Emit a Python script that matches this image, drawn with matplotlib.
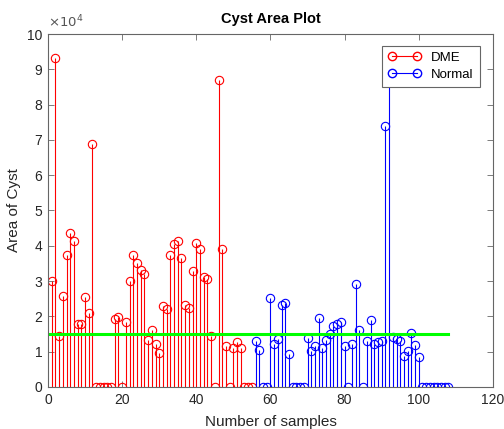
import matplotlib
matplotlib.use('Agg')
import matplotlib.pyplot as plt
import numpy as np
from matplotlib.lines import Line2D
from matplotlib.ticker import FuncFormatter

plt.rcParams['font.family'] = ['Liberation Sans', 'DejaVu Sans']

# cyst area values (x1e4)
dme_x = np.arange(1, 56)
dme_y = [3.00, 9.32, 1.45, 2.58, 3.75, 4.35, 4.13, 1.79, 1.79, 2.55,
         2.10, 6.87, 0, 0, 0, 0, 0, 1.93, 1.98, 0,
         1.84, 3.00, 3.75, 3.51, 3.31, 3.21, 1.34, 1.60, 1.21, 0.95,
         2.29, 2.22, 3.74, 4.04, 4.13, 3.64, 2.33, 2.25, 3.29, 4.08,
         3.91, 3.12, 3.05, 1.45, 0, 8.70, 3.92, 1.17, 0, 1.10,
         1.28, 1.09, 0, 0, 0]
normal_x = np.arange(56, 109)
normal_y = [1.29, 1.05, 0, 0, 2.52, 1.22, 1.36, 2.31, 2.38, 0.94,
            0, 0, 0, 0, 1.38, 1.02, 1.17, 1.96, 1.09, 1.32,
            1.49, 1.73, 1.78, 1.85, 1.16, 0, 1.23, 2.92, 1.61, 0,
            1.30, 1.91, 1.22, 1.28, 1.30, 7.40, 9.00, 1.41, 1.36, 1.29,
            0.87, 1.01, 1.53, 1.18, 0.86, 0, 0, 0, 0, 0,
            0, 0, 0]
threshold = 1.5e4
thr_x = [0, 108]

dme_y = np.array(dme_y) * 1e4
normal_y = np.array(normal_y) * 1e4

fig = plt.figure(figsize=(5.04, 4.29), dpi=100)
ax = fig.add_axes([0.0952, 0.098, 0.8828, 0.8227])

edge = '#666666'
for xs, ys, c in [(dme_x, dme_y, 'red'), (normal_x, normal_y, 'blue')]:
    ml, sl, bl = ax.stem(xs, ys, linefmt='-', markerfmt='o', basefmt=' ')
    plt.setp(sl, color=c, linewidth=0.8)
    plt.setp(ml, color=c, markerfacecolor='none', markersize=6, markeredgewidth=0.8)

ax.plot(thr_x, [threshold, threshold], color='#00ff00', linewidth=2.2,
        solid_capstyle='projecting')

ax.set_xlim(0, 120)
ax.set_ylim(0, 1e5)
ax.set_xticks(np.arange(0, 121, 20))
ax.set_yticks(np.arange(0, 1.01e5, 1e4))
ax.yaxis.set_major_formatter(FuncFormatter(lambda v, p: '%d' % round(v / 1e4)))
ax.tick_params(direction='in', top=True, right=True, length=4, width=0.6,
               color=edge, labelsize=10, labelcolor='#262626', pad=4)
for s in ax.spines.values():
    s.set_color(edge)
    s.set_linewidth(0.8)

ax.text(0.0, 1.01, r'$\times10^4$', transform=ax.transAxes, fontsize=9.5,
        color='#555555', ha='left', va='bottom')

ax.set_title('Cyst Area Plot', fontsize=10.5, fontweight='bold', pad=8)
ax.set_xlabel('Number of samples', fontsize=11, color='#262626', labelpad=6)
ax.set_ylabel('Area of Cyst', fontsize=11, color='#262626', labelpad=4)

handles = [Line2D([0, 1], [0, 0], color='red', marker='o', markerfacecolor='none',
                  markersize=6, linewidth=0.8, markevery=[1]),
           Line2D([0, 1], [0, 0], color='blue', marker='o', markerfacecolor='none',
                  markersize=6, linewidth=0.8, markevery=[1])]
leg = ax.legend(handles, ['DME', 'Normal'], loc='upper right', numpoints=2,
                fontsize=9.5, fancybox=False, framealpha=1, edgecolor=edge,
                bbox_to_anchor=(0.985, 0.985), handlelength=2.5, borderpad=0.45,
                labelspacing=0.35)
leg.get_frame().set_linewidth(0.8)

fig.savefig('out.png', dpi=100)
